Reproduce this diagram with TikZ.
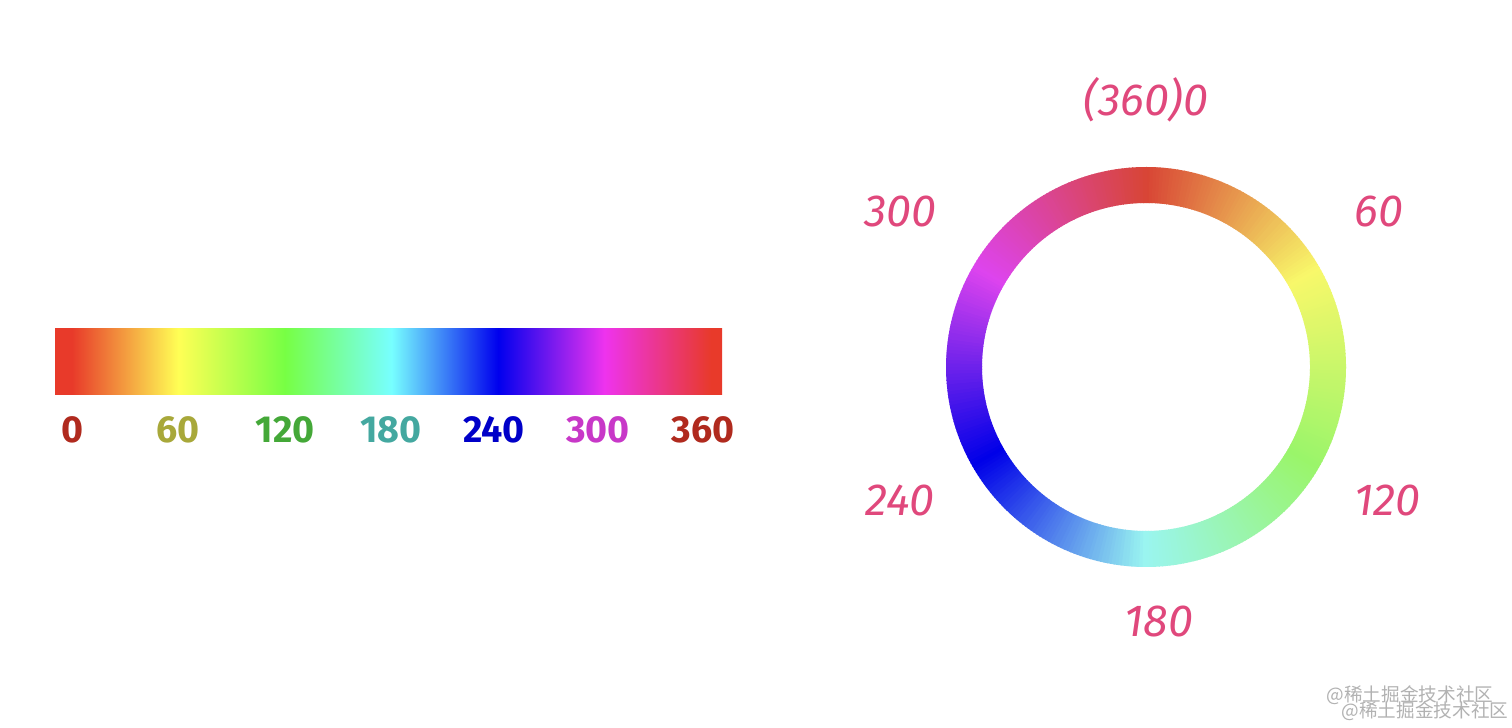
\documentclass[tikz,border=0pt]{standalone}
\usepackage{fontspec}
\setmainfont{Fira Sans}
\newfontfamily\cjkfont{Noto Sans CJK SC}
\usepackage{xcolor}
\usetikzlibrary{positioning}

% colours of the hue bar
\definecolor{barred}{HTML}{E83A2A}
\definecolor{baryellow}{HTML}{FFFF55}
\definecolor{bargreen}{HTML}{77FF44}
\definecolor{barcyan}{HTML}{77FFFF}
\definecolor{barblue}{HTML}{0000EE}
\definecolor{barmagenta}{HTML}{EE33EE}

% colours of the labels under the bar
\definecolor{lab0}{HTML}{B02A1E}
\definecolor{lab60}{HTML}{A8A83A}
\definecolor{lab120}{HTML}{44A838}
\definecolor{lab180}{HTML}{44A8A0}
\definecolor{lab240}{HTML}{0000C8}
\definecolor{lab300}{HTML}{C838C8}
\definecolor{lab360}{HTML}{B02A1E}

% key colours of the ring, every 60 degrees
\definecolor{ring0}{HTML}{D84535}
\definecolor{ring1}{HTML}{F8F86A}
\definecolor{ring2}{HTML}{9AF56A}
\definecolor{ring3}{HTML}{9AF5F0}
\definecolor{ring4}{HTML}{0000E8}
\definecolor{ring5}{HTML}{DD44EE}
\definecolor{ring6}{HTML}{D84535}

\definecolor{ringpink}{HTML}{E0487C}

\pgfdeclarehorizontalshading{huebar}{100bp}{%
  color(0bp)=(barred); color(26.27bp)=(barred);
  color(34.26bp)=(baryellow); color(42.24bp)=(bargreen);
  color(50.22bp)=(barcyan); color(58.21bp)=(barblue);
  color(66.19bp)=(barmagenta); color(74.18bp)=(barred);
  color(100bp)=(barred)}

\begin{document}
\begin{tikzpicture}[x=0.1mm, y=-0.1mm,
    barlabel/.style={font=\bfseries\fontsize{10.7}{12}\selectfont, inner sep=0pt},
    ringlabel/.style={text=ringpink, font=\itshape\fontsize{12.8}{14}\selectfont, inner sep=0pt}]
  \useasboundingbox[fill=white] (0,0) rectangle (1512,728);

  % === HUE BAR ===
  \shade[shading=huebar] (55,329) rectangle (722,395);

  \foreach \x/\lab in {72/0, 178/60, 285/120, 391/180, 494/240, 598/300, 703/360} {
    \node[barlabel, text=lab\lab] (bar\lab) at (\x,430) {\lab};
  }

  % === HUE RING ===
  \begin{scope}[shift={(1146,367)}]
    \foreach \a in {0,...,359} {
      \pgfmathtruncatemacro\k{\a/60}
      \pgfmathtruncatemacro\kk{\k+1}
      \pgfmathtruncatemacro\p{100-(\a-60*\k)*100/60}
      \colorlet{hc}{ring\k!\p!ring\kk}
      \fill[hc] (\a-90:164) -- (\a-90:200)
        arc[start angle=\a-90, end angle=\a-88.7, radius=200]
        -- (\a-88.7:164)
        arc[start angle=\a-88.7, end angle=\a-90, radius=164] -- cycle;
    }
  \end{scope}

  % labels round the ring
  \node[ringlabel] (ring0) at (1146,100) {(360)0};
  \node[ringlabel] (ring60) at (1379,212) {60};
  \node[ringlabel] (ring120) at (1387,501) {120};
  \node[ringlabel] (ring180) at (1159,621) {180};
  \node[ringlabel] (ring240) at (900,501) {240};
  \node[ringlabel] (ring300) at (900,212) {300};

  % watermark
  \node[text=black!30, font=\cjkfont\fontsize{5.3}{6}\selectfont, inner sep=0pt] (mark1) at (1410,695) {@稀土掘金技术社区};
  \node[text=black!30, font=\cjkfont\fontsize{5.3}{6}\selectfont, inner sep=0pt] (mark2) at (1425,711) {@稀土掘金技术社区};
\end{tikzpicture}
\end{document}
